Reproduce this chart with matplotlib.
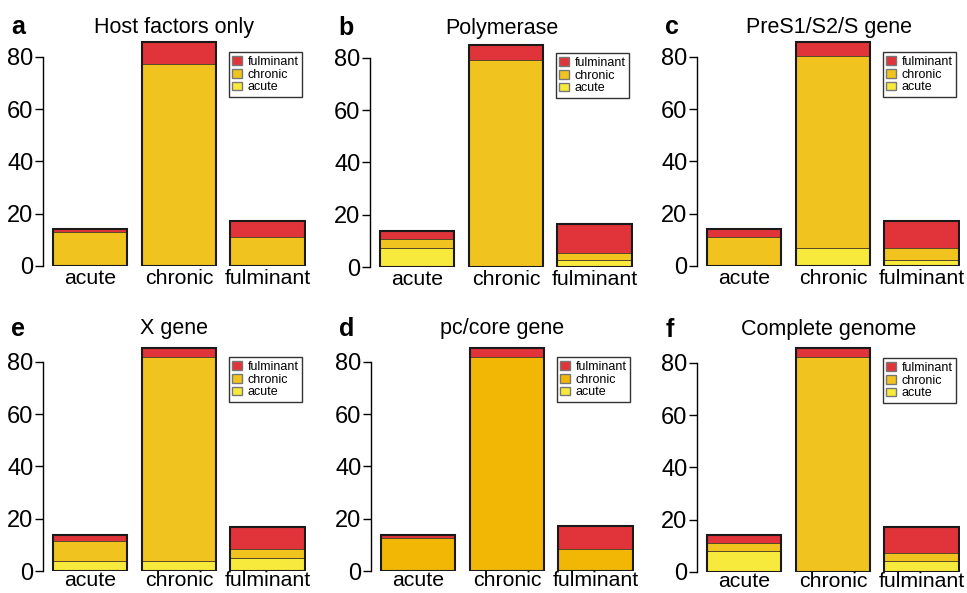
import matplotlib
matplotlib.use("Agg")
import matplotlib.pyplot as plt
from matplotlib.patches import Patch

plt.rcParams['font.family'] = ['Liberation Sans', 'DejaVu Sans']

categories = ["acute", "chronic", "fulminant"]
panel_letters = ["a", "b", "c", "e", "d", "f"]
panel_titles = ["Host factors only", "Polymerase", "PreS1/S2/S gene",
                "X gene", "pc/core gene", "Complete genome"]

# predicted-class counts per true class (bars: acute, chronic, fulminant)
acute_vals = [
    [0, 0, 0],
    [7.4, 0, 2.6],
    [0, 7.0, 2.2],
    [3.8, 3.8, 5.1],
    [0, 0, 0],
    [8.1, 0, 4.1],
]
chronic_vals = [
    [13.1, 77.3, 11.1],
    [3.2, 79.4, 2.9],
    [11.1, 73.3, 4.8],
    [7.8, 78.1, 3.4],
    [12.8, 82.0, 8.5],
    [2.9, 82.2, 3.0],
]
fulminant_vals = [
    [1.0, 8.4, 6.1],
    [3.2, 5.5, 11.0],
    [3.1, 5.4, 10.4],
    [2.0, 3.4, 8.5],
    [1.1, 3.5, 8.7],
    [3.3, 3.7, 10.1],
]

c_red = "#E0343A"
c_chr = "#F0C31E"
c_chr_d = "#F2B705"
c_acu = "#F7EA3C"

W, H = 967, 593
fig = plt.figure(figsize=(W / 100, H / 100), dpi=100)

lefts = [43, 370, 697, 43, 371, 697]
zeros = [266, 267, 266, 571, 571, 572]
ax_w = 263
ax_h = 227.3

for i in range(6):
    left, zero = lefts[i], zeros[i]
    ax = fig.add_axes([left / W, 1 - zero / H, ax_w / W, ax_h / H])
    chr_col = c_chr_d if i == 4 else c_chr
    x = range(3)
    a = acute_vals[i]
    c = chronic_vals[i]
    f = fulminant_vals[i]
    bw = 0.84
    kw = dict(width=bw, edgecolor="#5a4a25", linewidth=0.7)
    ax.bar(x, a, color=c_acu, **kw)
    ax.bar(x, c, bottom=a, color=chr_col, **kw)
    bot = [a[j] + c[j] for j in range(3)]
    ax.bar(x, f, bottom=bot, color=c_red, **kw)
    tot = [bot[j] + f[j] for j in range(3)]
    ax.bar(x, tot, width=bw, fill=False, edgecolor="#1a1a1a", linewidth=1.5)

    ax.set_xlim(-0.53, 2.43)
    ax.set_ylim(0, 87)
    for s in ["top", "right", "bottom"]:
        ax.spines[s].set_visible(False)
    ax.spines["left"].set_bounds(0, 80)
    ax.spines["left"].set_linewidth(1.0)
    ax.set_yticks([0, 20, 40, 60, 80])
    ax.tick_params(axis="y", labelsize=17, length=6, width=1.0, pad=1)
    ax.set_xticks(list(x))
    ax.set_xticklabels(categories)
    ax.tick_params(axis="x", length=0, labelsize=15.3, pad=2 if i < 3 else 0)

    ty = 1.05 if i < 3 else 1.065
    ax.text(0.5, ty, panel_titles[i], transform=ax.transAxes,
            fontsize=15.5, va="center", ha="center")
    ax.text(-0.12, ty, panel_letters[i], transform=ax.transAxes,
            fontsize=18, fontweight="bold", va="center", ha="left")

    handles = [Patch(facecolor=c_red, edgecolor="#777777", label="fulminant"),
               Patch(facecolor=chr_col, edgecolor="#777777", label="chronic"),
               Patch(facecolor=c_acu, edgecolor="#777777", label="acute")]
    leg = ax.legend(handles=handles, loc="upper right",
                    bbox_to_anchor=(0.985, 0.94), fontsize=9,
                    frameon=True, fancybox=False, borderpad=0.3,
                    labelspacing=0.05, handlelength=0.8, handleheight=0.7,
                    handletextpad=0.4, borderaxespad=0)
    leg.get_frame().set_edgecolor("black")
    leg.get_frame().set_linewidth(1.0)

fig.savefig("out.png", dpi=100)
